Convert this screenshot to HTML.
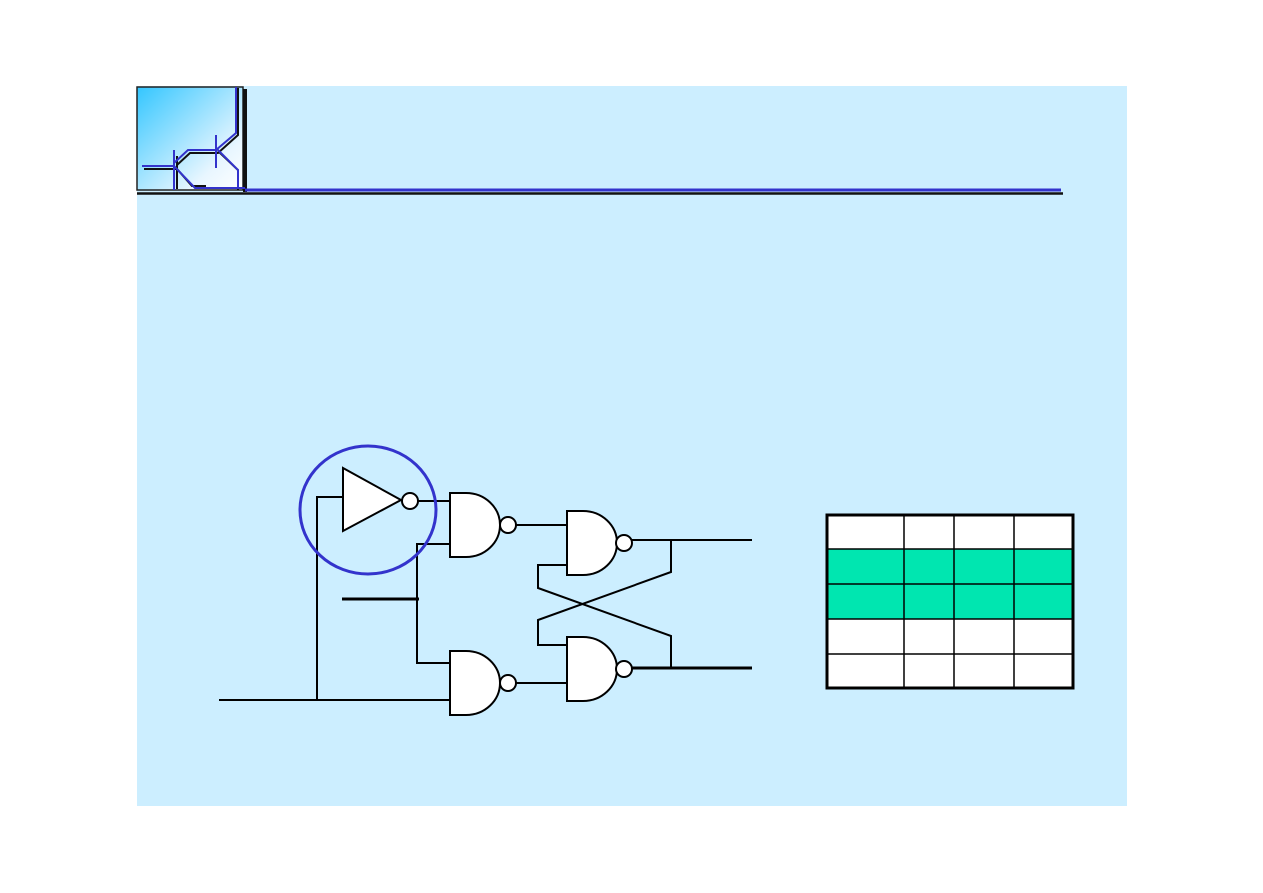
<!DOCTYPE html>
<html><head><style>
body{margin:0;background:#fff;width:1263px;height:893px;overflow:hidden}
svg{display:block}
</style></head><body>
<svg width="1263" height="893" viewBox="0 0 1263 893" xmlns="http://www.w3.org/2000/svg">
<defs>
<linearGradient id="g" x1="0" y1="0" x2="1" y2="1">
<stop offset="0" stop-color="#33c6ff"/><stop offset="0.75" stop-color="#e8f6ff"/><stop offset="1" stop-color="#ffffff"/>
</linearGradient>
</defs>
<rect x="137" y="86" width="990" height="720" fill="#cceeff"/>
<!-- logo -->
<rect x="137" y="87" width="106" height="103" fill="url(#g)" stroke="#222" stroke-width="1.5"/>
<rect x="243" y="89" width="4" height="103" fill="#111"/>
<g fill="none" stroke-width="2">
<path d="M144,169 H177 L192,186 H206" stroke="#111"/>
<path d="M177,156 V189" stroke="#111"/>
<path d="M177,165 L190,153 H218 L238,135 V88" stroke="#111"/>
<path d="M218,151 L238,170 V190" stroke="#111"/>
<path d="M142,166 H174 L195,188 H245" stroke="#3333cc"/>
<path d="M174,150 V190" stroke="#3333cc"/>
<path d="M174,163 L188,150 H216 L236,133 V87" stroke="#3333cc"/>
<path d="M216,135 V168" stroke="#3333cc"/>
<path d="M216,148 L238,170 V188" stroke="#3333cc"/>
</g>
<line x1="245" y1="190" x2="1061" y2="190" stroke="#3333cc" stroke-width="3"/>
<line x1="137" y1="193.5" x2="1063" y2="193.5" stroke="#111" stroke-width="2.5"/>
<!-- circuit wires -->
<g stroke="#000" stroke-width="2" fill="none">
<path d="M219,700 H450"/>
<path d="M317,700 V497 H343"/>
<path d="M418,501 H450"/>
<path d="M450,544 H417 V663 H450"/>
<path d="M516,525 H567"/>
<path d="M516,683 H567"/>
<path d="M632,540 H752"/>
<path d="M632,668 H752" stroke-width="3"/>
<path d="M342,599 H419" stroke-width="3"/>
<path d="M567,565 H538 V588 L671,636 V668"/>
<path d="M567,645 H538 V620 L671,572 V540"/>
</g>
<!-- gates -->
<g stroke="#000" stroke-width="2" fill="#fff">
<path d="M343,468 L401,500 L343,531 Z"/>
<circle cx="410" cy="501" r="8"/>
<path d="M450,493 H466 A34,32 0 0 1 466,557 H450 Z"/>
<circle cx="508" cy="525" r="8"/>
<path d="M450,651 H466 A34,32 0 0 1 466,715 H450 Z"/>
<circle cx="508" cy="683" r="8"/>
<path d="M567,511 H583 A34,32 0 0 1 583,575 H567 Z"/>
<circle cx="624" cy="543" r="8"/>
<path d="M567,637 H583 A34,32 0 0 1 583,701 H567 Z"/>
<circle cx="624" cy="669" r="8"/>
</g>
<ellipse cx="368" cy="510" rx="68" ry="64" fill="none" stroke="#3333cc" stroke-width="3"/>
<!-- table -->
<rect x="827" y="549" width="246" height="70" fill="#00e6b0"/>
<rect x="827" y="619" width="246" height="69" fill="#fff"/>
<rect x="827" y="515" width="246" height="34" fill="#fff"/>
<g stroke="#000" stroke-width="1.5">
<line x1="904" y1="515" x2="904" y2="688"/>
<line x1="954" y1="515" x2="954" y2="688"/>
<line x1="1014" y1="515" x2="1014" y2="688"/>
<line x1="827" y1="549" x2="1073" y2="549"/>
<line x1="827" y1="584" x2="1073" y2="584"/>
<line x1="827" y1="619" x2="1073" y2="619"/>
<line x1="827" y1="654" x2="1073" y2="654"/>
</g>
<rect x="827" y="515" width="246" height="173" fill="none" stroke="#000" stroke-width="3"/>
</svg>
</body></html>
